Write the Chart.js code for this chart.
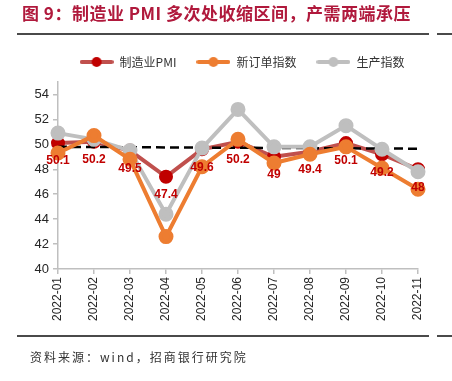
<!DOCTYPE html>
<html>
<head>
<meta charset="utf-8">
<script src="https://cdn.jsdelivr.net/npm/chart.js@4/dist/chart.umd.min.js"></script>
<style>
  html, body { margin: 0; padding: 0; background: #fff; }
  #wrap { position: relative; width: 452px; height: 381px; overflow: hidden; background: #fff; }
  #cv { position: absolute; left: 0; top: 0; }
  #title { position: absolute; left: 22px; top: 3px; line-height: 20px; font-family: "Noto Sans CJK SC", sans-serif; font-weight: bold; font-size: 17px; color: #b0193c; white-space: nowrap; letter-spacing: 0.5px; z-index: 2; }
  #source { position: absolute; left: 30px; top: 348px; line-height: 18px; font-family: "Noto Sans CJK SC", sans-serif; font-size: 12px; letter-spacing: 2px; color: #333; white-space: nowrap; z-index: 2; }
</style>
</head>
<body>
<div id="wrap">
  <canvas id="cv" width="452" height="381"></canvas>
  <div id="title">图 9：制造业 PMI 多次处收缩区间，产需两端承压</div>
  <div id="source">资料来源：wind，招商银行研究院</div>
</div>
<script>
const categories = ['2022-01','2022-02','2022-03','2022-04','2022-05','2022-06','2022-07','2022-08','2022-09','2022-10','2022-11'];
const pmiValues = [50.1, 50.2, 49.5, 47.4, 49.6, 50.2, 49.0, 49.4, 50.1, 49.2, 48.0];
const newOrderValues = [49.3, 50.7, 48.8, 42.6, 48.2, 50.4, 48.5, 49.2, 49.8, 48.1, 46.4];
const productionValues = [50.9, 50.4, 49.5, 44.4, 49.7, 52.8, 49.8, 49.8, 51.5, 49.6, 47.8];
const referenceLine = [49.8, null, null, null, null, null, null, null, null, null, 49.65];
const seriesNames = ['制造业PMI', '新订单指数', '生产指数'];
const yTicks = [40, 42, 44, 46, 48, 50, 52, 54];

function legendIcon(lineColor, dotColor) {
  const c = document.createElement('canvas');
  c.width = 34; c.height = 12;
  const g = c.getContext('2d');
  g.strokeStyle = lineColor; g.lineWidth = 4; g.lineCap = 'round';
  g.beginPath(); g.moveTo(2, 6); g.lineTo(32, 6); g.stroke();
  g.fillStyle = dotColor;
  g.beginPath(); g.arc(17, 6, 5, 0, Math.PI * 2); g.fill();
  return c;
}
const icons = [legendIcon('#c0504d', '#c00000'), legendIcon('#ed7d31', '#ed7d31'), legendIcon('#bfbfbf', '#bfbfbf')];

const decorPlugin = {
  id: 'decor',
  afterLayout(chart) {
    const lg = chart.legend;
    if (lg) { lg.left += 33; lg.right += 33; lg.top -= 4; lg.bottom -= 4; }
  },
  beforeDraw(chart) {
    const ctx = chart.ctx;
    ctx.save();
    ctx.fillStyle = '#ffffff';
    ctx.fillRect(0, 0, chart.width, chart.height);
    ctx.strokeStyle = '#4a4a4a';
    ctx.lineWidth = 2;
    [34, 336].forEach(y => {
      ctx.beginPath(); ctx.moveTo(17, y); ctx.lineTo(429, y); ctx.stroke();
      ctx.beginPath(); ctx.moveTo(437, y); ctx.lineTo(452, y); ctx.stroke();
    });
    ctx.restore();
  },
  afterDatasetsDraw(chart) {
    const meta = chart.getDatasetMeta(0);
    const ctx = chart.ctx;
    ctx.save();
    ctx.font = 'bold 12px Arial, "Liberation Sans", sans-serif';
    ctx.fillStyle = '#c00000';
    ctx.textAlign = 'center';
    ctx.textBaseline = 'middle';
    meta.data.forEach((pt, i) => {
      ctx.fillText(String(pmiValues[i]), pt.x, pt.y + 18);
    });
    ctx.restore();
  }
};

new Chart(document.getElementById('cv'), {
  type: 'line',
  data: {
    labels: categories,
    datasets: [
      { label: seriesNames[0], data: pmiValues, borderColor: '#c0504d', backgroundColor: '#c00000',
        pointBackgroundColor: '#c00000', pointBorderColor: '#c00000', borderWidth: 4, pointRadius: 5, order: 4, tension: 0 },
      { label: seriesNames[1], data: newOrderValues, borderColor: '#ed7d31', backgroundColor: '#ed7d31',
        pointBackgroundColor: '#ed7d31', pointBorderColor: '#ed7d31', borderWidth: 4, pointRadius: 5.5, order: 1, tension: 0 },
      { label: seriesNames[2], data: productionValues, borderColor: '#bfbfbf', backgroundColor: '#bfbfbf',
        pointBackgroundColor: '#bfbfbf', pointBorderColor: '#bfbfbf', borderWidth: 4, pointRadius: 5.5, order: 2, tension: 0 },
      { label: 'ref', data: referenceLine, borderColor: '#000', borderWidth: 2.5, borderDash: [9, 5],
        pointRadius: 0, spanGaps: true, order: 3, tension: 0 }
    ]
  },
  options: {
    responsive: false,
    animation: false,
    layout: { padding: { left: 0, right: 34, top: 40, bottom: 51 } },
    plugins: {
      tooltip: { enabled: false },
      legend: {
        position: 'top',
        labels: {
          usePointStyle: true,
          pointStyleWidth: 34,
          padding: 20,
          color: '#333',
          font: { family: '"Noto Sans CJK SC", sans-serif', size: 12 },
          filter: (item) => item.datasetIndex < 3,
          sort: (a, b) => a.datasetIndex - b.datasetIndex,
          generateLabels: (chart) => chart.data.datasets.slice(0, 3).map((ds, i) => ({
            text: ds.label, datasetIndex: i, pointStyle: icons[i], fillStyle: ds.borderColor,
            strokeStyle: ds.borderColor, lineWidth: 0, hidden: false, fontColor: '#333'
          }))
        }
      }
    },
    scales: {
      x: {
        offset: false,
        grid: { display: true, drawOnChartArea: false, drawTicks: true, tickLength: 5, color: '#bfbfbf', lineWidth: 1.5 },
        border: { color: '#bfbfbf', width: 1.5 },
        ticks: { maxRotation: 90, minRotation: 90, padding: 3, color: '#262626', font: { family: 'Arial, "Liberation Sans", sans-serif', size: 12 } },
        afterFit: (s) => { s.height = 61; }
      },
      y: {
        min: 40, max: 55,
        afterBuildTicks: (s) => { s.ticks = yTicks.map(v => ({ value: v })); },
        grid: { display: true, drawOnChartArea: false, drawTicks: true, tickLength: 5, color: '#bfbfbf', lineWidth: 1.5 },
        border: { color: '#bfbfbf', width: 1.5 },
        ticks: { padding: 4, color: '#262626', font: { family: 'Arial, "Liberation Sans", sans-serif', size: 13 } },
        afterFit: (s) => { s.width = 58; }
      }
    }
  },
  plugins: [decorPlugin]
});
</script>
</body>
</html>
